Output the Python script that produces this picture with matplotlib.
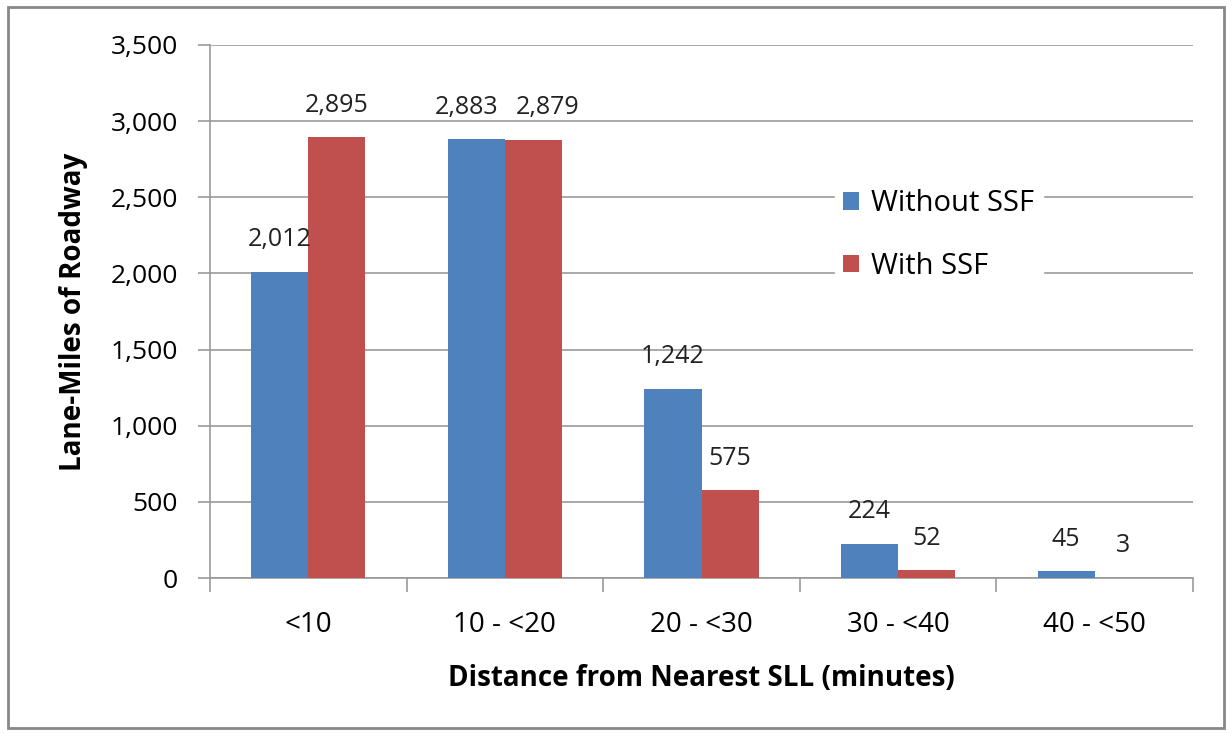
import matplotlib
matplotlib.use("Agg")
import matplotlib.pyplot as plt
from matplotlib.patches import Rectangle
import numpy as np

categories = ["<10", "10 - <20", "20 - <30", "30 - <40", "40 - <50"]
without_ssf = [2012, 2883, 1242, 224, 45]
with_ssf = [2895, 2879, 575, 52, 3]
series_names = ["Without SSF", "With SSF"]
yticks = [0, 500, 1000, 1500, 2000, 2500, 3000, 3500]

plt.rcParams['font.family'] = ['Open Sans', 'DejaVu Sans']

W, H = 1232, 734
fig = plt.figure(figsize=(W/100, H/100), dpi=100)
ax = fig.add_axes([210/W, 1-578/H, (1193-210)/W, (578-45)/H])

blue = "#4F81BD"
red = "#C0504D"
x = np.arange(len(categories))
bw = 0.29
b1 = ax.bar(x - bw/2, without_ssf, bw, color=blue, label=series_names[0], zorder=3)
b2 = ax.bar(x + bw/2, with_ssf, bw, color=red, label=series_names[1], zorder=3)

# horizontal nudges (points) to keep adjacent labels apart, as in the original
nudge = {(0, 1): -7, (1, 1): 10}
for si, (bars, vals) in enumerate(((b1, without_ssf), (b2, with_ssf))):
    for ci, (rect, v) in enumerate(zip(bars, vals)):
        dx = nudge.get((si, ci), 0)
        ax.annotate(f"{v:,}", (rect.get_x() + rect.get_width()/2, v),
                    xytext=(dx, 23), textcoords="offset points",
                    ha="center", va="center", fontsize=18, color="#222222")

ax.set_xlim(-0.5, len(categories) - 0.5)
ax.set_ylim(0, 3500)
ax.set_yticks(yticks)
ax.set_yticklabels([f"{t:,}" for t in yticks], fontsize=19)
ax.set_xticks(x)
ax.set_xticklabels(categories, fontsize=20)
ax.tick_params(axis='x', length=0, pad=24)
ax.tick_params(axis='y', length=9, color="#999999", pad=14, direction='out', width=1.2)
# category boundary ticks
ax.set_xticks(np.arange(-0.5, len(categories)), minor=True)
ax.tick_params(axis='x', which='minor', length=10, color="#999999", direction='out', width=1.2)

ax.grid(axis='y', color="#999999", linewidth=1.2, zorder=0)
for s in ("top", "right"):
    ax.spines[s].set_visible(False)
ax.spines["left"].set_color("#999999")
ax.spines["bottom"].set_color("#999999")
ax.spines["left"].set_linewidth(1.2)
ax.spines["bottom"].set_linewidth(1.2)

ax.set_ylabel("Lane-Miles of Roadway", fontsize=20, fontweight="bold", labelpad=16)
ax.set_xlabel("Distance from Nearest SLL (minutes)", fontsize=20, fontweight="bold", labelpad=18)

leg = ax.legend(loc="upper left", bbox_to_anchor=((820-210)/(1193-210), 1-(166-45)/(578-45)),
                frameon=True, fontsize=21, handlelength=0.55, handleheight=0.55,
                labelspacing=1.15, borderpad=0.3, handletextpad=0.4)
leg.get_frame().set_edgecolor("white")
leg.get_frame().set_facecolor("white")
leg.get_frame().set_alpha(1)
leg.set_zorder(5)

# outer border
fig.patches.append(Rectangle((8/W, 6/H), (1224-8)/W, (727-6)/H, transform=fig.transFigure,
                             fill=False, edgecolor="#888888", linewidth=2))

fig.savefig("out.png", dpi=100)
